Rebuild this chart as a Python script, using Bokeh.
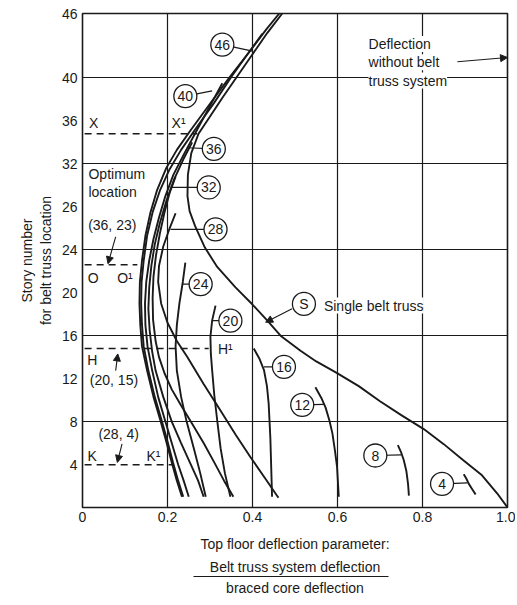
from bokeh.plotting import figure
from bokeh.models import Range1d, FixedTicker, Label, Arrow, NormalHead, Title, LinearAxis
from bokeh.core.properties import value
from bokeh.embed import file_html
from bokeh.resources import INLINE

FONT = "Liberation Sans"
INK = "#1a1a1a"

# ---------------- data ----------------
x_ticks = [0, 0.2, 0.4, 0.6, 0.8, 1.0]
y_ticks = [4, 8, 12, 16, 20, 24, 28, 32, 36, 40, 46]
y_tick_overrides = {28: "26"}
x_grid = [0.2, 0.4, 0.6, 0.8]
y_grid = [8, 16, 24, 32, 40]

# Single belt truss curve (S)
s_x = [1.0, 0.976, 0.94, 0.896, 0.85, 0.803, 0.75, 0.70, 0.65, 0.595, 0.55, 0.513, 0.466, 0.435, 0.40, 0.36,
       0.317, 0.288, 0.265, 0.252, 0.247, 0.248, 0.256, 0.273, 0.30, 0.33, 0.365, 0.40, 0.435, 0.47]
s_y = [0.0, 1.3, 3.0, 4.4, 5.9, 7.3, 8.6, 9.9, 11.3, 12.6, 13.6, 14.6, 16.0, 17.4, 18.9, 20.5,
       22.4, 24.2, 26.2, 27.6, 29.0, 31.0, 33.0, 34.8, 36.4, 38.2, 40.2, 42.2, 44.2, 46.0]

# envelope curve reaching the top
a_x = [0.463, 0.432, 0.39, 0.345, 0.30, 0.254, 0.222, 0.197, 0.175, 0.16, 0.148, 0.14, 0.135, 0.134, 0.136,
       0.14, 0.152, 0.167, 0.184, 0.198, 0.21, 0.222, 0.234]
a_y = [46.0, 44.5, 42.3, 40.0, 37.6, 35.1, 33.3, 31.6, 29.5, 27.5, 25.3, 23.0, 21.0, 19.0, 17.0,
       15.0, 12.75, 10.3, 8.0, 6.0, 4.2, 2.5, 1.0]

c46_x = [0.423, 0.39, 0.352, 0.31, 0.265, 0.232, 0.205, 0.182, 0.165, 0.152, 0.144, 0.139, 0.138, 0.14,
         0.144, 0.155, 0.17, 0.187, 0.201, 0.213, 0.225, 0.237]
c46_y = [44.1, 42.3, 40.2, 37.7, 35.2, 33.3, 31.5, 29.5, 27.5, 25.3, 23.0, 21.0, 19.0, 17.0,
         15.0, 12.75, 10.3, 8.0, 6.0, 4.2, 2.5, 1.0]

c40_x = [0.329, 0.30, 0.27, 0.24, 0.214, 0.195, 0.18, 0.167, 0.157, 0.15, 0.147, 0.148, 0.153, 0.164,
         0.178, 0.195, 0.21, 0.225, 0.238, 0.25]
c40_y = [39.5, 37.4, 35.2, 33.0, 31.0, 29.0, 27.0, 25.0, 23.0, 21.0, 19.0, 17.0, 15.0, 12.75,
         10.3, 8.0, 6.0, 4.0, 2.5, 1.0]

c36_x = [0.258, 0.237, 0.215, 0.197, 0.182, 0.17, 0.162, 0.157, 0.155, 0.158, 0.164, 0.172, 0.19, 0.21,
         0.232, 0.255, 0.272, 0.285]
c36_y = [34.0, 32.4, 30.5, 28.5, 26.5, 24.5, 22.5, 20.5, 18.5, 16.5, 14.5, 12.75, 10.3, 8.0,
         6.0, 4.0, 2.5, 1.0]

c32_x = [0.219, 0.205, 0.193, 0.182, 0.173, 0.167, 0.165, 0.166, 0.172, 0.18, 0.193, 0.21, 0.232, 0.258,
         0.285, 0.31, 0.333, 0.355]
c32_y = [30.8, 29.3, 27.5, 25.5, 23.5, 21.5, 19.5, 17.5, 15.5, 14.0, 12.5, 11.0, 9.5, 7.8,
         6.0, 4.2, 2.5, 1.0]

c28_x = [0.219, 0.205, 0.19, 0.18, 0.178, 0.185, 0.2, 0.222, 0.247, 0.285, 0.325, 0.36, 0.395, 0.43, 0.461]
c28_y = [27.4, 26.0, 24.3, 22.5, 21.0, 19.0, 17.2, 15.5, 14.0, 11.5, 9.0, 6.8, 4.7, 2.7, 0.9]

c24_x = [0.242, 0.236, 0.228, 0.222, 0.219, 0.222, 0.232, 0.245, 0.262, 0.277, 0.29]
c24_y = [22.8, 21.0, 19.0, 17.0, 15.0, 12.75, 10.3, 8.0, 5.5, 3.2, 1.0]

c20_x = [0.313, 0.305, 0.301, 0.302, 0.305, 0.31, 0.317, 0.325, 0.335, 0.348]
c20_y = [18.8, 17.4, 15.9, 14.3, 12.8, 10.5, 8.1, 5.5, 3.2, 1.0]

c16_x = [0.403, 0.417, 0.427, 0.434, 0.438, 0.442, 0.444, 0.446]
c16_y = [14.8, 13.8, 12.8, 11.3, 9.7, 6.5, 3.8, 1.0]

c12_x = [0.548, 0.562, 0.572, 0.581, 0.588, 0.594, 0.599, 0.603]
c12_y = [11.2, 10.2, 9.3, 8.1, 6.9, 5.3, 3.75, 1.0]

c8_x = [0.742, 0.75, 0.756, 0.762, 0.766, 0.768]
c8_y = [5.8, 5.1, 4.4, 3.4, 2.2, 1.1]

c4_x = [0.897, 0.903, 0.909, 0.917, 0.925]
c4_y = [3.1, 2.7, 2.2, 1.7, 1.2]

# circled curve labels and their leader targets
tag_text = ["46", "40", "36", "32", "28", "24", "20", "16", "12", "8", "4", "S"]
tag_x = [0.329, 0.242, 0.309, 0.297, 0.313, 0.278, 0.348, 0.474, 0.517, 0.689, 0.846, 0.521]
tag_y = [43.1, 38.3, 33.4, 29.8, 25.9, 20.8, 17.4, 13.1, 9.56, 4.84, 2.2, 18.96]
lead_x = [0.40, 0.305, 0.246, 0.207, 0.207, 0.235, 0.306, 0.427, 0.568, 0.75, 0.906, 0.521]
lead_y = [42.5, 38.8, 33.5, 29.8, 25.9, 20.8, 17.4, 13.1, 9.6, 4.9, 2.3, 18.96]

# dashed reference lines X, O, H, K
dash_x0 = [0.005, 0.005, 0.005, 0.005]
dash_x1 = [0.27, 0.129, 0.297, 0.215]
dash_y = [34.8, 22.6, 14.8, 3.97]

# plain notes
note_text = ["X", "X\u00b9", "O", "O\u00b9", "H", "H\u00b9", "K", "K\u00b9", "(36, 23)", "(20, 15)", "(28, 4)"]
note_x = [0.026, 0.226, 0.025, 0.10, 0.023, 0.336, 0.023, 0.167, 0.07, 0.074, 0.085]
note_y = [35.8, 35.8, 21.4, 21.4, 13.7, 14.8, 4.75, 4.75, 26.3, 11.9, 6.86]

# small arrows (start -> end)
arr_x0 = [0.078, 0.078, 0.093, 0.493, 0.882]
arr_y0 = [25.2, 12.75, 5.93, 18.5, 41.5]
arr_x1 = [0.06, 0.083, 0.082, 0.431, 1.0]
arr_y1 = [22.7, 14.3, 4.2, 17.25, 41.9]

# fraction under the x-axis title
frac_top = "Belt truss system deflection"
frac_bottom = "braced core deflection"
frac_bar = (0.261, 0.72)

# ---------------- figure ----------------
p = figure(width=515, height=600, output_backend="svg", toolbar_location=None,
           x_range=Range1d(0, 1.0), y_range=Range1d(0, 46),
           min_border_left=82, min_border_right=8, min_border_top=13, min_border_bottom=93)
p.background_fill_color = "white"
p.border_fill_color = "white"
p.outline_line_color = INK
p.outline_line_width = 1.6

p.xgrid.ticker = FixedTicker(ticks=x_grid)
p.ygrid.ticker = FixedTicker(ticks=y_grid)
for g in (p.xgrid, p.ygrid):
    g.grid_line_color = INK
    g.grid_line_width = 1.2
    g.grid_line_alpha = 1.0

p.xaxis.ticker = FixedTicker(ticks=x_ticks)
p.xaxis.major_label_overrides = {1: "1.0"}
p.yaxis.ticker = FixedTicker(ticks=y_ticks)
p.yaxis.major_label_overrides = y_tick_overrides
for ax in (p.xaxis, p.yaxis):
    ax.axis_line_color = None
    ax.major_tick_line_color = None
    ax.minor_tick_line_color = None
    ax.major_tick_out = 0
    ax.major_tick_in = 0
    ax.major_label_text_font = FONT
    ax.major_label_text_font_size = "14px"
    ax.major_label_text_color = INK
    ax.axis_label_text_font = FONT
    ax.axis_label_text_font_size = "14px"
    ax.axis_label_text_font_style = "normal"
    ax.axis_label_text_color = INK
p.xaxis.major_label_standoff = 4
p.yaxis.major_label_standoff = 5
p.xaxis.axis_label = "Top floor deflection parameter:"
p.xaxis.axis_label_standoff = 11
p.yaxis.axis_label = "Story number\nfor belt truss location"
p.yaxis.axis_label_standoff = 5

# fraction stacked below the axis title
t1 = Title(text=frac_top, align="center", offset=-4, text_font=FONT, text_font_size="14px",
           text_font_style="normal", text_color=INK, standoff=4)
p.add_layout(t1, "below")
bar = LinearAxis(bounds=frac_bar, ticker=FixedTicker(ticks=[]), axis_line_color=INK, axis_line_width=1.2,
                 major_tick_line_color=None, minor_tick_line_color=None, major_tick_out=0, major_tick_in=0,
                 major_label_text_font_size="0px", major_label_standoff=0)
p.add_layout(bar, "below")
t2 = Title(text=frac_bottom, align="center", offset=-5, text_font=FONT, text_font_size="14px",
           text_font_style="normal", text_color=INK, standoff=2)
p.add_layout(t2, "below")

# curves
for xs, ys in [(s_x, s_y), (a_x, a_y), (c46_x, c46_y), (c40_x, c40_y), (c36_x, c36_y), (c32_x, c32_y),
               (c28_x, c28_y), (c24_x, c24_y), (c20_x, c20_y), (c16_x, c16_y), (c12_x, c12_y),
               (c8_x, c8_y), (c4_x, c4_y)]:
    p.line(xs, ys, line_color=INK, line_width=1.9)

# dashed reference lines
p.segment(x0=dash_x0, y0=dash_y, x1=dash_x1, y1=dash_y, line_color=INK, line_width=1.5, line_dash="7 5")

# leaders and circles
p.segment(x0=tag_x, y0=tag_y, x1=lead_x, y1=lead_y, line_color=INK, line_width=1.2)
p.scatter(tag_x, tag_y, marker="circle", size=23, fill_color="white", line_color=INK, line_width=1.3)
p.text(tag_x, tag_y, text=tag_text, text_align="center", text_baseline="middle",
       text_font=value(FONT), text_font_size=value("14px"), text_color=INK)

# notes
p.text(note_x, note_y, text=note_text, text_align="center", text_baseline="middle",
       text_font=value(FONT), text_font_size=value("14px"), text_color=INK)

for x0, y0, x1, y1 in zip(arr_x0, arr_y0, arr_x1, arr_y1):
    p.add_layout(Arrow(end=NormalHead(size=7, fill_color=INK, line_color=INK, line_width=1),
                       x_start=x0, y_start=y0, x_end=x1, y_end=y1, line_color=INK, line_width=1.1))


def lab(x, y, text, align="left"):
    p.add_layout(Label(x=x, y=y, text=text, text_align=align, text_baseline="middle", text_font=FONT,
                       text_font_size="14px", text_color=INK, background_fill_color="white"))


lab(0.568, 18.8, "Single belt truss")
lab(0.673, 43.17, "Deflection")
lab(0.673, 41.46, "without belt")
lab(0.673, 39.76, "truss system")
lab(0.014, 31.07, "Optimum")
lab(0.014, 29.36, "location")

open("out.html", "w").write(file_html(p, INLINE))
